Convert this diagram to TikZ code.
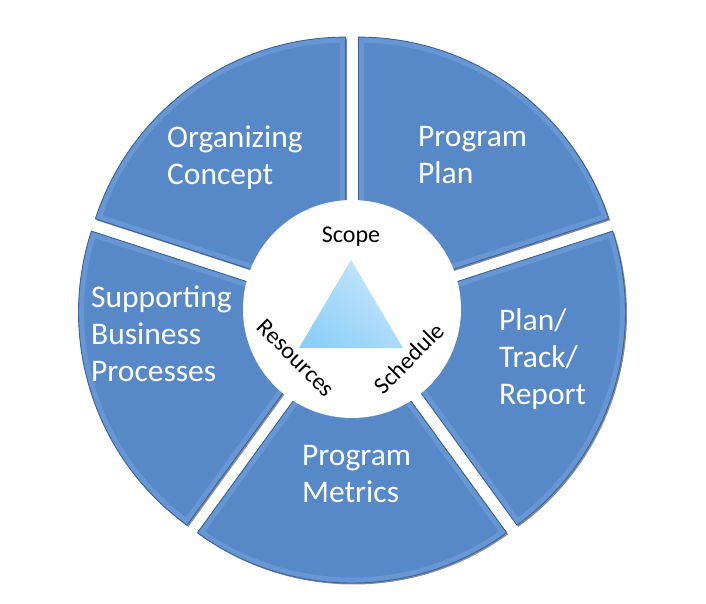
\documentclass[tikz,border=0pt]{standalone}
\usepackage{fontspec}
\setmainfont{Carlito}
\usepackage{tikz}
\usetikzlibrary{arrows.meta,positioning,calc,shadings}
\definecolor{cyblue}{HTML}{5789C9}
\definecolor{cybevel}{HTML}{6A9AD6}
\definecolor{cyedge}{HTML}{3A6399}
\definecolor{cyshadow}{HTML}{1E2F45}
\definecolor{trilo}{HTML}{86CCF8}
\definecolor{trimid}{HTML}{A9DAF9}
\definecolor{trihi}{HTML}{D2ECFC}
\tikzset{
  segfill/.style={fill=cyblue},
  segbevel/.style={draw=cybevel,line width=11pt},
  segedge/.style={draw=cyedge,line width=0.9pt,line join=miter},
  segshadow/.style={fill=cyshadow,opacity=0.55},
  hub/.style={circle,fill=white,minimum size=218pt,inner sep=0pt},
  seglbl/.style={text=white,font=\fontsize{31.5}{37}\selectfont,align=left,
                 anchor=base west,inner sep=0pt},
  hublbl/.style={text=black,font=\fontsize{24}{28}\selectfont,inner sep=0pt},
}
% one exploded slice of the ring, #1 = bisector angle
\newcommand{\ringseg}[1]{(#1:11) -- ++(#1-36:263)
  arc[start angle=#1-36,end angle=#1+36,radius=263] -- cycle}

\begin{document}
\begin{tikzpicture}[x=1pt,y=1pt]
    \useasboundingbox (0,0) rectangle (706,603);
    % ring
    \begin{scope}[shift={(352,294)}]
      \foreach \a in {54,-18,-90,198,126}{
        \fill[segshadow,xshift=1.5,yshift=-1.5] \ringseg{\a};
        \begin{scope}
          \clip \ringseg{\a};
          \fill[segfill] \ringseg{\a};
          \draw[segbevel,opacity=0.8] \ringseg{\a};
        \end{scope}
        \draw[segedge] \ringseg{\a};
      }
    \end{scope}
    \node[hub] (hub) at (352,294) {};
    \shade[lower left=trilo,lower right=trimid,upper left=trimid,upper right=trihi]
      (299,255) coordinate (tl) -- (351,343) coordinate (tt) -- (403,255) coordinate (tr) -- cycle;
    \node[hublbl] (scope) at (351,366) {Scope};
    \node[hublbl,rotate=-45] (res) at (296,245) {Resources};
    \node[hublbl,rotate=45] (sched) at (409,245) {Schedule};
    % segment labels (base = last line)
    \node[seglbl] (plan) at (418,419) {Program\\Plan};
    \node[seglbl] (concept) at (167,418) {Organizing\\Concept};
    \node[seglbl] (support) at (91,222) {Supporting\\Business\\Processes};
    \node[seglbl] (track) at (499,199) {Plan/\\Track/\\Report};
    \node[seglbl] (metrics) at (302,101) {Program\\Metrics};
\end{tikzpicture}
\end{document}
